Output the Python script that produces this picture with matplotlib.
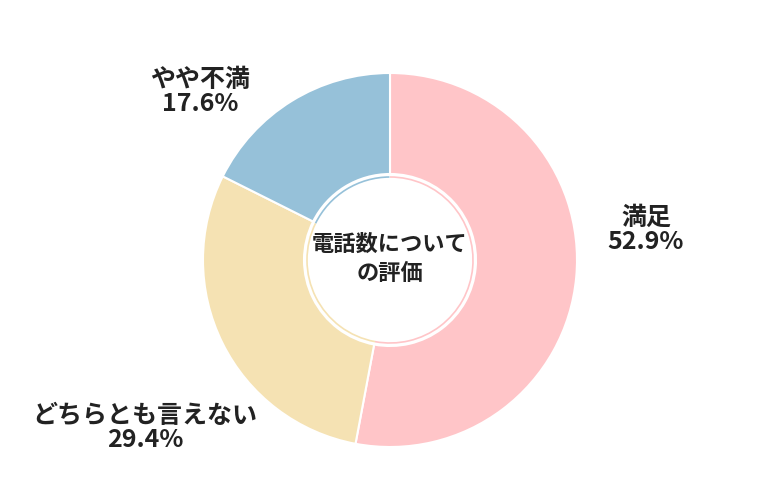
import matplotlib
matplotlib.use("Agg")
import matplotlib.pyplot as plt
from matplotlib.patches import Circle, Arc

plt.rcParams['font.family'] = ['Noto Sans CJK JP', 'DejaVu Sans']

categories = ["満足", "どちらとも言えない", "やや不満"]
values = [52.9, 29.4, 17.6]
colors = ["#FFC5C8", "#F5E2B3", "#96C1D9"]

fig = plt.figure(figsize=(7.8, 5), dpi=100)
ax = fig.add_axes([0, 0, 1, 1])

cx, cy, R = 390, 240, 187
ax.pie(values, colors=colors, startangle=90, counterclock=False,
       center=(cx, cy), radius=R, wedgeprops=dict(width=R - 86, edgecolor='white', linewidth=1.5),
       frame=True)
ax.set_xlim(0, 780)
ax.set_ylim(0, 500)
ax.set_aspect('equal')
ax.axis('off')
ax.add_patch(Circle((cx, cy), 86, facecolor='white', edgecolor='none', zorder=3))
ang = 90
for v, c in zip(values, colors):
    theta2 = ang
    theta1 = ang - v / 100 * 360
    ax.add_patch(Arc((cx, cy), 2 * 83, 2 * 83, theta1=theta1, theta2=theta2, color=c, lw=1.2, zorder=4))
    ang = theta1
ax.add_patch(Circle((cx, cy), 81, facecolor='white', edgecolor='none', zorder=5))

ax.text(cx, cy + 1, "電話数について\nの評価", ha='center', va='center', fontsize=16,
        fontweight='bold', color='#222222', linespacing=1.3, zorder=6)

labels = [f"{c}\n{v}%" for c, v in zip(categories, values)]
pos = [(646, 270), (145, 72), (200, 408)]
for lab, (x, y) in zip(labels, pos):
    ax.text(x, y, lab, ha='center', va='center', fontsize=18, fontweight='bold',
            color='#222222', linespacing=1.05)

fig.savefig("out.png", dpi=100, facecolor='white')
